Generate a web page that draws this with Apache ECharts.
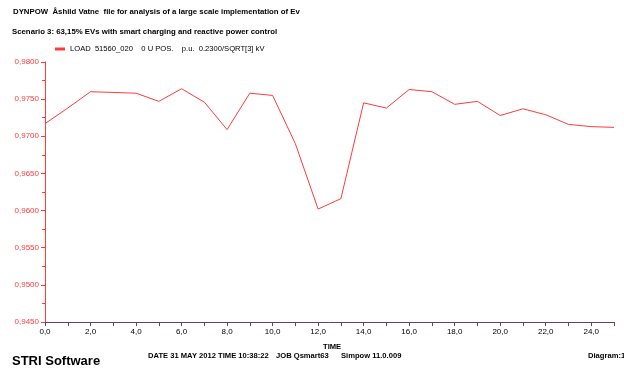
<!DOCTYPE html>
<html>
<head>
<meta charset="utf-8">
<script src="https://cdn.jsdelivr.net/npm/echarts@6/dist/echarts.min.js"></script>
<style>
  html, body { margin: 0; padding: 0; background: #fff; }
  #chart { width: 624px; height: 373px; }
</style>
</head>
<body>
<div id="chart"></div>
<script>
// Hourly time stamps (h) and the load bus voltage (p.u.)
const hours = [0, 1, 2, 3, 4, 5, 6, 7, 8, 9, 10, 11, 12, 13, 14, 15, 16, 17, 18, 19, 20, 21, 22, 23, 24, 25];
const voltage = [0.9717, 0.9738, 0.9760, 0.9759, 0.9758, 0.9747, 0.9764, 0.9746, 0.9709, 0.9758,
                 0.9755, 0.9690, 0.9602, 0.9616, 0.9745, 0.9738, 0.9763, 0.9760, 0.9743, 0.9747,
                 0.9728, 0.9737, 0.9729, 0.9716, 0.9713, 0.9712];
const seriesName = 'LOAD  51560_020    0 U POS.    p.u.  0.2300/SQRT[3] kV';
const headerLine1 = 'DYNPOW  Åshild Vatne  file for analysis of a large scale implementation of Ev';
const headerLine2 = 'Scenario 3: 63,15% EVs with smart charging and reactive power control';
const footerDate = 'DATE 31 MAY 2012 TIME 10:38:22';
const footerJob = 'JOB Qsmart63';
const footerVersion = 'Simpow 11.0.009';

const FONT = '"Liberation Sans", Arial, sans-serif';
const RED = '#ff3b3b';
const AXIS_X = '#6a3c6a';

const chart = echarts.init(document.getElementById('chart'), null, { renderer: 'canvas' });

const smallBold = 'bold 7.6px ' + FONT;

chart.setOption({
  animation: false,
  backgroundColor: '#ffffff',
  textStyle: { fontFamily: FONT },
  grid: { left: 45, right: 10, top: 62, bottom: 51, containLabel: false },
  graphic: [
    { type: 'text', left: 13, top: 8, style: { text: headerLine1, font: 'bold 7.8px ' + FONT, fill: '#000' } },
    { type: 'text', left: 12, top: 28, style: { text: headerLine2, font: 'bold 7.8px ' + FONT, fill: '#000' } },
    { type: 'text', left: 12, top: 355, style: { text: 'STRI Software', font: 'bold 13px ' + FONT, fill: '#000' } },
    { type: 'text', left: 148, top: 352, style: { text: footerDate, font: smallBold, fill: '#000' } },
    { type: 'text', left: 276, top: 352, style: { text: footerJob, font: smallBold, fill: '#000' } },
    { type: 'text', left: 341, top: 352, style: { text: footerVersion, font: smallBold, fill: '#000' } },
    { type: 'text', left: 588, top: 352, style: { text: 'Diagram:1', font: smallBold, fill: '#000' } },
    { type: 'text', left: 323, top: 343, style: { text: 'TIME', font: smallBold, fill: '#000' } }
  ],
  legend: {
    left: 50, top: 40,
    icon: 'rect', itemWidth: 10, itemHeight: 3, itemGap: 6,
    textStyle: { fontFamily: FONT, fontSize: 7.6, color: '#000' },
    data: [seriesName]
  },
  xAxis: {
    type: 'value', min: 0, max: 25, interval: 1,
    axisLine: { show: true, onZero: false, lineStyle: { color: AXIS_X, width: 1 } },
    axisTick: { show: true, length: 4, lineStyle: { color: AXIS_X } },
    splitLine: { show: false },
    axisLabel: {
      color: '#000', fontFamily: FONT, fontSize: 8, margin: 6,
      formatter: v => (v % 2 === 0 && v < 25) ? v.toFixed(1).replace('.', ',') : ''
    }
  },
  yAxis: {
    type: 'value', min: 0.945, max: 0.98, interval: 0.005,
    axisLine: { show: true, lineStyle: { color: RED, width: 1 } },
    axisTick: { show: true, length: 4, lineStyle: { color: RED } },
    minorTick: { show: true, splitNumber: 2, length: 3, lineStyle: { color: RED } },
    splitLine: { show: false },
    axisLabel: {
      color: RED, fontFamily: FONT, fontSize: 8, margin: 6,
      formatter: v => v.toFixed(4).replace('.', ',')
    }
  },
  series: [{
    name: seriesName,
    type: 'line',
    data: hours.map((h, i) => [h, voltage[i]]),
    symbol: 'none',
    lineStyle: { color: RED, width: 1 },
    itemStyle: { color: RED }
  }]
});
</script>
</body>
</html>
